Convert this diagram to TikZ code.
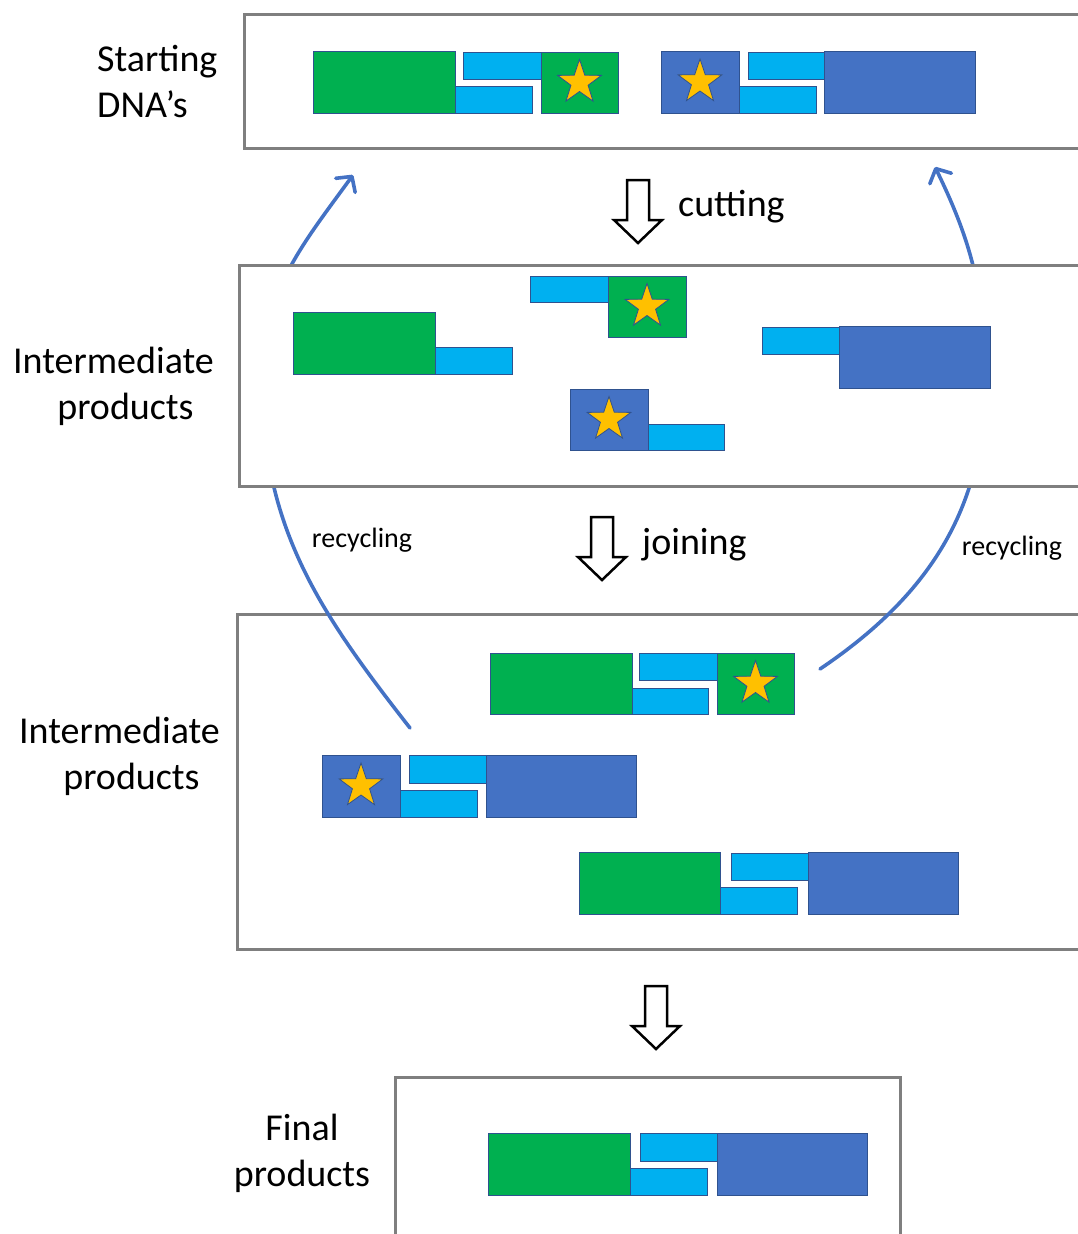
\documentclass[tikz,border=0pt]{standalone}
\usepackage{fontspec}
\setmainfont{Carlito}
\usetikzlibrary{shapes.geometric,arrows.meta}

\definecolor{dnagreen}{HTML}{00B050}
\definecolor{dnacyan}{HTML}{00B0F0}
\definecolor{dnablue}{HTML}{4472C4}
\definecolor{dnaedge}{HTML}{2F528F}
\definecolor{stargold}{HTML}{FFC000}
\definecolor{panelgray}{HTML}{7F7F7F}

% one block of a strand, corners given in pixels (y down)
\newcommand{\blk}[5]{\draw[#1] (#2,-#3) rectangle (#4,-#5);}
% hollow down arrow, tip at #1
\newcommand{\hollowdown}[1]{\draw[hollow,shift={(#1)}] (-11,63) -- (11,63) -- (11,23) -- (24,23) -- (0,0) -- (-24,23) -- (-11,23) -- cycle;}

\begin{document}
\begin{tikzpicture}[x=1pt,y=1pt,
    panel/.style={draw=panelgray,line width=3pt},
    gblock/.style={fill=dnagreen,draw=dnaedge,line width=0.8pt},
    cblock/.style={fill=dnacyan,draw=dnaedge,line width=0.8pt},
    bblock/.style={fill=dnablue,draw=dnaedge,line width=0.8pt},
    mark star/.style={star,star points=5,star point ratio=2.55,fill=stargold,draw=dnaedge,line width=0.8pt,minimum size=46pt,inner sep=0pt},
    hollow/.style={draw=black,fill=white,line width=2.5pt,line join=miter},
    recycle/.style={draw=dnablue,line width=3.6pt,line cap=round,-{Straight Barb[length=11pt,width=24pt,round]}},
    lbl/.style={font=\fontsize{38}{46}\selectfont,inner sep=0pt},
    small lbl/.style={font=\fontsize{28}{34}\selectfont,inner sep=0pt}]
  \clip (0,0) rectangle (1078,-1234);

  % panels behind the curves
  \draw[panel] (244,-14) rectangle (1100,-148);
  \draw[panel] (237,-614) rectangle (1100,-949);
  \draw[panel] (395,-1077) rectangle (900,-1260);

  % recycling curves
  \coordinate (recL) at (410,-728);
  \coordinate (midL) at (262,-380);
  \coordinate (topL) at (353,-175);
  \coordinate (recR) at (820,-669);
  \coordinate (midR) at (985,-380);
  \coordinate (topR) at (935,-167);
  \draw[recycle] (recL) to[out=128,in=-90] (midL) to[out=90,in=-126] (topL);
  \draw[recycle] (recR) to[out=34,in=-90] (midR) to[out=90,in=-64] (topR);

  % middle panel hides the curves
  \draw[panel,fill=white] (239,-265) rectangle (1100,-486);

  % starting DNA's
  \blk{gblock}{313}{51}{455}{113}
  \blk{cblock}{463}{52}{541}{79}
  \blk{cblock}{455}{86}{532}{113}
  \blk{gblock}{541}{52}{618}{113}
  \blk{bblock}{661}{51}{739}{113}
  \blk{cblock}{748}{52}{824}{79}
  \blk{cblock}{739}{86}{816}{113}
  \blk{bblock}{824}{51}{975}{113}
  \node[mark star] (s1) at (579.5,-82.5) {};
  \node[mark star] (s2) at (700,-82) {};

  % intermediate products after cutting
  \blk{gblock}{293}{312}{435}{374}
  \blk{cblock}{435}{347}{512}{374}
  \blk{cblock}{530}{276}{608}{302}
  \blk{gblock}{608}{276}{686}{337}
  \blk{cblock}{762}{327}{840}{354}
  \blk{bblock}{839}{326}{990}{388}
  \blk{bblock}{570}{389}{648}{450}
  \blk{cblock}{648}{424}{724}{450}
  \node[mark star] (s3) at (647,-306.5) {};
  \node[mark star] (s4) at (609,-419.5) {};

  % intermediate products after joining
  \blk{gblock}{490}{653}{632}{714}
  \blk{cblock}{639}{653}{717}{680}
  \blk{cblock}{632}{688}{708}{714}
  \blk{gblock}{717}{653}{794}{714}
  \blk{bblock}{322}{755}{400}{817}
  \blk{cblock}{409}{755}{486}{783}
  \blk{cblock}{400}{790}{477}{817}
  \blk{bblock}{486}{755}{636}{817}
  \blk{gblock}{579}{852}{720}{914}
  \blk{cblock}{731}{853}{808}{880}
  \blk{cblock}{720}{887}{797}{914}
  \blk{bblock}{808}{852}{958}{914}
  \node[mark star] (s5) at (755.5,-683.5) {};
  \node[mark star] (s6) at (361,-786) {};

  % final product
  \blk{gblock}{488}{1133}{630}{1195}
  \blk{cblock}{640}{1133}{717}{1161}
  \blk{cblock}{630}{1168}{707}{1195}
  \blk{bblock}{717}{1133}{867}{1195}

  % step arrows
  \hollowdown{638,-243}
  \hollowdown{602,-580}
  \hollowdown{656,-1049}

  % labels
  \node[lbl,align=left,anchor=west] (start) at (97,-82) {Starting\\DNA’s};
  \node[lbl,align=center] (inter1) at (113.5,-386) {Intermediate\\\hspace*{24pt}products};
  \node[lbl,align=center] (inter2) at (119.5,-756) {Intermediate\\\hspace*{24pt}products};
  \node[lbl,align=center] (final) at (302,-1153) {Final\\products};
  \node[lbl,anchor=west] (cut) at (678,-207) {cutting};
  \node[lbl,anchor=west] (join) at (642,-545) {joining};
  \node[small lbl] (recyL) at (362,-540) {recycling};
  \node[small lbl] (recyR) at (1012,-548) {recycling};
\end{tikzpicture}
\end{document}
